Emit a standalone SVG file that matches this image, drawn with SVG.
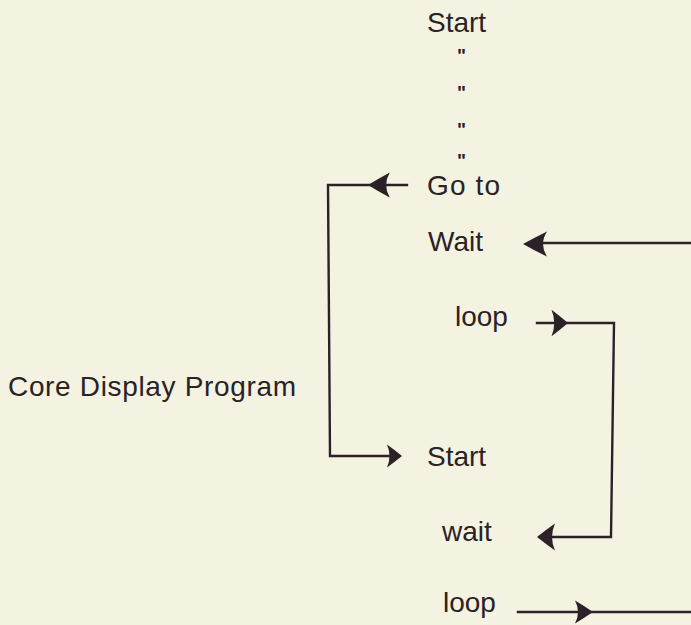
<svg xmlns="http://www.w3.org/2000/svg" xmlns:xlink="http://www.w3.org/1999/xlink" width="691" height="625" viewBox="0 0 691 625">
<style>
.t{font-family:"Liberation Sans",Arial,sans-serif;font-size:28px;fill:#2a2226}
.d{font-family:"Liberation Sans",Arial,sans-serif;font-size:19px;font-weight:bold;fill:#2a2226}
.c{fill:none;stroke:#2a2226;stroke-width:2.4;stroke-linecap:square}
.h{fill:#2a2226}
</style>
<defs>
<path id="ah" d="M0,0 Q-7,-6 -15,-12 Q-10,0 -15,12 Q-7,6 0,0 Z"/>
</defs>
<rect width="691" height="625" fill="#f4f2e1"/>
<g id="n-start1"><text class="t" x="427" y="32">Start</text></g>
<g id="n-ditto1"><text class="d" x="457" y="62">"</text></g>
<g id="n-ditto2"><text class="d" x="457" y="99">"</text></g>
<g id="n-ditto3"><text class="d" x="457" y="136">"</text></g>
<g id="n-ditto4"><text class="d" x="457" y="167">"</text></g>
<g id="n-goto"><text class="t" x="427" y="195" textLength="73" lengthAdjust="spacing">Go to</text></g>
<g id="n-wait1"><text class="t" x="428" y="251">Wait</text></g>
<g id="n-loop1"><text class="t" x="455" y="326">loop</text></g>
<g id="n-core"><text class="t" x="8" y="396" textLength="288" lengthAdjust="spacing">Core Display Program</text></g>
<g id="n-start2"><text class="t" x="427" y="466">Start</text></g>
<g id="n-wait2"><text class="t" x="442" y="541">wait</text></g>
<g id="n-loop2"><text class="t" x="443" y="612">loop</text></g>
<g id="connectors">
<polyline class="c" points="407,185 328,185 330,456 398,456"/>
<use xlink:href="#ah" class="h" transform="translate(368,185) rotate(180) scale(1.45,1.05)"/>
<use xlink:href="#ah" class="h" transform="translate(402,456) scale(1,0.95)"/>
<polyline class="c" points="691,243 530,243"/>
<use xlink:href="#ah" class="h" transform="translate(523,244) rotate(180) scale(1.6,1.05)"/>
<polyline class="c" points="537,323 614,323 611,537 540,537"/>
<use xlink:href="#ah" class="h" transform="translate(568,323) scale(1.1,1.1)"/>
<use xlink:href="#ah" class="h" transform="translate(537,537) rotate(180) scale(1.2,1.12)"/>
<polyline class="c" points="518,612 691,612"/>
<use xlink:href="#ah" class="h" transform="translate(593,612) scale(1.2,0.95)"/>
</g>
</svg>
